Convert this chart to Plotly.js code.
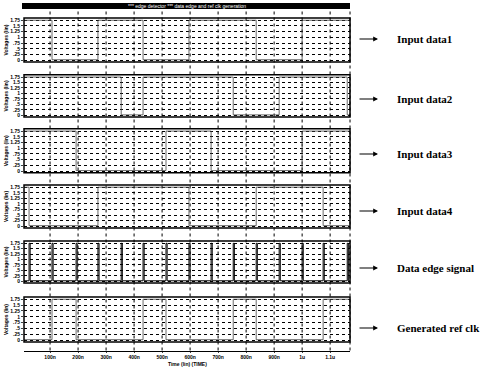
<!DOCTYPE html>
<html><head><meta charset="utf-8">
<script src="https://cdn.plot.ly/plotly-3.0.1.min.js"></script>
<style>html,body{margin:0;padding:0;background:#fff}#c{width:493px;height:367px}</style>
</head><body><div id="c"></div>
<script>
// ---- data ----
const timeTicks = [0.1,0.2,0.3,0.4,0.5,0.6,0.7,0.8,0.9,1.0,1.1];
const timeTickLabels = ["100n","200n","300n","400n","500n","600n","700n","800n","900n","1u","1.1u"];
const voltTicks = [0,0.25,0.5,0.75,1,1.25,1.5,1.75];
const voltTickLabels = ["0",".25",".5",".75","1","1.25","1.5","1.75"];

const data1T = [0, 0.107, 0.271, 0.432, 0.596, 0.836, 1.0, 1.17];
const data1V = [1.75, 0.02, 1.75, 0.02, 1.75, 0.02, 1.75, 1.75];
const data2T = [0, 0.354, 0.432, 0.754, 0.918, 1.161, 1.17];
const data2V = [1.75, 0.02, 1.75, 0.02, 1.75, 0.02, 0.02];
const data3T = [0, 0.193, 0.514, 0.675, 1.0, 1.17];
const data3V = [1.75, 0.02, 1.75, 0.02, 1.75, 1.75];
const data4T = [0, 0.025, 0.271, 0.596, 0.836, 1.075, 1.17];
const data4V = [1.75, 0.02, 1.75, 0.02, 1.75, 0.02, 0.02];

const edgeRise = [0.025,0.107,0.193,0.271,0.354,0.432,0.514,0.596,0.675,0.754,0.836,0.918,1.0,1.075,1.161];
const edgeFall = [0.029,0.111,0.197,0.275,0.358,0.436,0.518,0.600,0.679,0.758,0.840,0.922,1.004,1.079,1.165];
const edgeHigh = 1.75, edgeLow = 0.02;

const refT = [0, 0.107, 0.193, 0.432, 0.514, 0.754, 0.836, 1.075, 1.17];
const refV = [0.02, 1.75, 0.02, 1.75, 0.02, 1.75, 0.02, 1.75, 1.75];

const labels = ["Input data1","Input data2","Input data3","Input data4","Data edge signal","Generated ref clk"];
const titleText = "*** edge detector *** data edge and ref clk generation";

// ---- build ----
const ex = [0], ey = [edgeLow];
edgeRise.forEach((r,i)=>{ ex.push(r, edgeFall[i]); ey.push(edgeHigh, edgeLow); });
ex.push(1.17); ey.push(edgeLow);

const series = [[data1T,data1V],[data2T,data2V],[data3T,data3V],[data4T,data4V],[ex,ey],[refT,refV]];
const doms = [[0.831,0.951],[0.681,0.796],[0.529,0.649],[0.379,0.496],[0.229,0.343],[0.068,0.191]];
const labelY = [39, 99, 154, 211, 268, 328];
const xdom = [0.0487, 0.710];
const xr = [0.007, 1.171];

const traces = [], layout = {
  width:493, height:367, margin:{l:0,r:0,t:0,b:0},
  paper_bgcolor:'#fff', plot_bgcolor:'#fff', showlegend:false,
  font:{family:'Liberation Sans, Arial', color:'#000'},
  shapes:[], annotations:[]
};
series.forEach((s,i)=>{
  const n = i+1, xa = 'x'+(n===1?'':n), ya = 'y'+(n===1?'':n);
  traces.push({x:s[0], y:s[1], xaxis:xa, yaxis:ya, mode:'lines',
    line:{shape:'hv', color: i===4 ? '#000' : '#444', width: i===4?1.0:0.8}, hoverinfo:'skip'});
  const xk = 'xaxis'+(n===1?'':n), yk = 'yaxis'+(n===1?'':n);
  layout[xk] = {domain:xdom, range:xr, anchor: n===6 ? 'free' : ya, position: 0.044,
    showgrid:false, zeroline:false, showline: n===6, linecolor:'#000', linewidth:1.5,
    tickvals: timeTicks, ticktext: timeTickLabels, showticklabels: n===6, ticks: n===6?'outside':'', ticklen:1,
    tickfont:{size:5, family:'Liberation Sans', weight:'bold'}, fixedrange:true};
  layout[yk] = {domain:doms[i], range:[-0.08,1.85], anchor:xa, showgrid:true, gridcolor:'#000', griddash:'dot', gridwidth:1,
    zeroline:false, showline:false, tickvals:voltTicks, ticktext:voltTickLabels, ticks:'outside', ticklen:2,
    tickfont:{size:5, family:'Liberation Sans', weight:'bold'},
    title:{text:'Voltages (lin)', font:{size:5, weight:'bold'}, standoff:1}, fixedrange:true};
  layout.shapes.push({type:'rect', xref:xa+' domain', yref:ya+' domain', x0:0, x1:1, y0:0, y1:1, line:{color:'#000', width:1.5}});
  const yc = 1 - labelY[i]/367;
  layout.annotations.push({xref:'paper', yref:'paper', x:378/493, y:yc, ax:-20, ay:0, showarrow:true, arrowhead:2, arrowsize:0.8, arrowwidth:1.2, arrowcolor:'#000', text:''});
  layout.annotations.push({xref:'paper', yref:'paper', x:395/493, y:yc, xanchor:'left', yanchor:'middle', showarrow:false, text:labels[i],
    font:{family:'Liberation Serif, Times New Roman', size:11, weight:'bold', color:'#000'}});
});
// x axis title
layout.annotations.push({xref:'paper', yref:'paper', x:(xdom[0]+xdom[1])/2, y:1-364/367, yanchor:'middle', showarrow:false,
  text:'Time (lin) (TIME)', font:{size:5, weight:'bold', color:'#000'}});
// vertical dotted grid extending across the panel stack
timeTicks.forEach(t=>{
  layout.shapes.push({type:'line', xref:'x6', yref:'paper', x0:t, x1:t, y0:0.045, y1:0.975, line:{color:'#000', width:1, dash:'dot'}, layer:'below'});
});
layout.shapes.push({type:'line', xref:'paper', yref:'paper', x0:xdom[1], x1:xdom[1], y0:0.045, y1:0.975, line:{color:'#000', width:1, dash:'dot'}});
// black title bar
layout.shapes.push({type:'rect', xref:'paper', yref:'paper', x0:22/493, x1:350/493, y0:1-9/367, y1:1-3/367, fillcolor:'#000', line:{width:0}});
layout.annotations.push({xref:'paper', yref:'paper', x:0.38, y:1-6/367, yanchor:'middle', showarrow:false, text:titleText, font:{size:5, color:'#fff'}});

Plotly.newPlot('c', traces, layout, {staticPlot:true, displayModeBar:false});
</script></body></html>
